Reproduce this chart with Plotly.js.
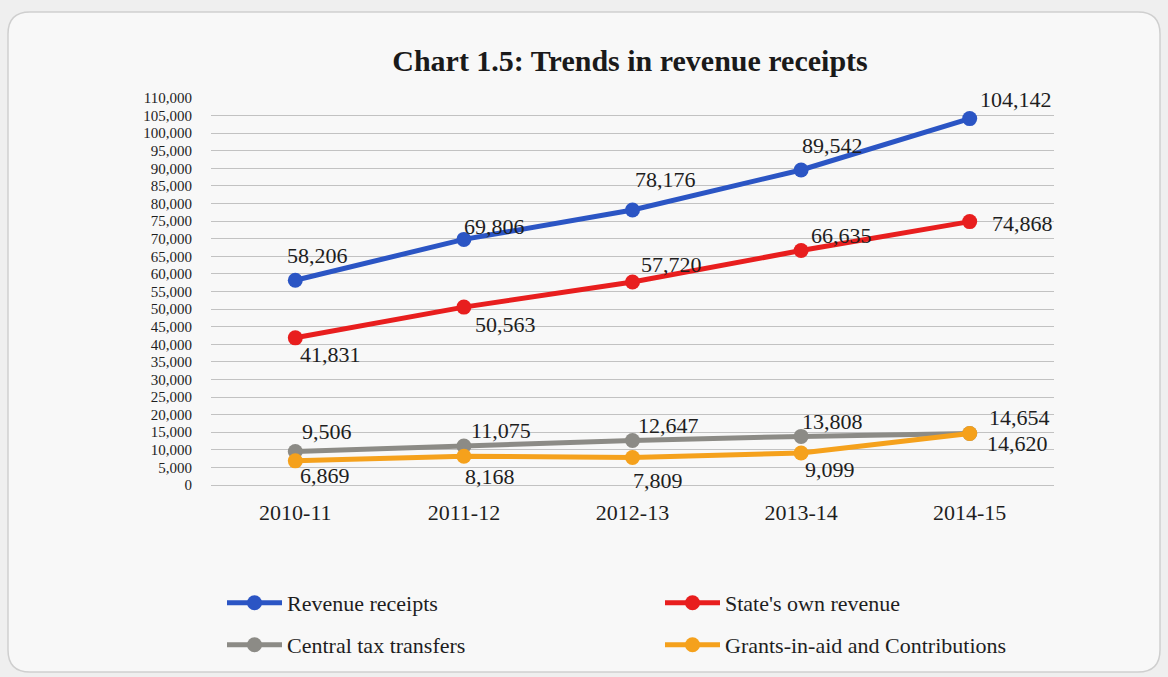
<!DOCTYPE html>
<html>
<head>
<meta charset="utf-8">
<script src="https://cdn.plot.ly/plotly-3.0.1.min.js"></script>
<style>html,body{margin:0;padding:0;background:#efefef;}#chart{width:1168px;height:677px;}</style>
</head>
<body>
<div id="chart"></div>
<script>
// ---- data ----
const years = ["2010-11", "2011-12", "2012-13", "2013-14", "2014-15"];
const revenueReceipts = [58206, 69806, 78176, 89542, 104142];
const stateOwnRevenue = [41831, 50563, 57720, 66635, 74868];
const centralTaxTransfers = [9506, 11075, 12647, 13808, 14654];
const grantsInAid = [6869, 8168, 7809, 9099, 14620];
const yTicks = [0,5000,10000,15000,20000,25000,30000,35000,40000,45000,50000,55000,60000,65000,70000,75000,80000,85000,90000,95000,100000,105000,110000];

// ---- label offsets (px, style only) ----
const offBlue   = [[22,-25],[31,-13],[33,-30],[31,-24],[46,-19]];
const offRed    = [[35,17],[42,17],[39,-17],[40,-15],[53,2]];
const offGray   = [[32,-20],[37,-16],[36,-15],[31,-15],[50,-16]];
const offOrange = [[30,15],[26,20],[25,23],[29,17],[48,10]];

const serif = "Liberation Serif, Times New Roman, serif";
const cBlue = "#2b55c4", cRed = "#e81e1e", cGray = "#8c8b86", cOrange = "#f5a11c";

function tr(name, y, color, legend) {
  return {
    x: years, y: y, name: name, type: "scatter", mode: "lines+markers",
    line: {color: color, width: 5},
    marker: {color: color, size: 15},
    legend: legend
  };
}
const traces = [
  tr("Central tax transfers", centralTaxTransfers, cGray, "legend3"),
  tr("Grants-in-aid and Contributions", grantsInAid, cOrange, "legend4"),
  tr("Revenue receipts", revenueReceipts, cBlue, "legend"),
  tr("State's own revenue", stateOwnRevenue, cRed, "legend2")
];

const fmt = v => v.toLocaleString("en-US");
const annotations = [];
[[revenueReceipts, offBlue],[stateOwnRevenue, offRed],[centralTaxTransfers, offGray],[grantsInAid, offOrange]].forEach(([vals, offs]) => {
  vals.forEach((v, i) => {
    annotations.push({x: years[i], y: v, xref: "x", yref: "y", text: fmt(v), showarrow: false,
      xshift: offs[i][0], yshift: -offs[i][1], font: {family: serif, size: 22, color: "#1e1e1e"}});
  });
});

function leg(px, py) {
  return {orientation: "h", xref: "container", yref: "container", x: px/1168, y: 1 - py/677, xanchor: "left", yanchor: "middle",
    bgcolor: "rgba(0,0,0,0)", font: {family: serif, size: 22, color: "#1e1e1e"}, itemwidth: 55};
}

const ML = 211, MR = 114, MT = 98, MB = 192;
const layout = {
  width: 1168, height: 677,
  paper_bgcolor: "#efefef", plot_bgcolor: "rgba(0,0,0,0)",
  margin: {l: ML, r: MR, t: MT, b: MB},
  title: {text: "<b>Chart 1.5: Trends in revenue receipts</b>", font: {family: serif, size: 30, color: "#1a1a1a"},
    x: 630/1168, xanchor: "center", y: 1 - 60/677, yanchor: "middle", xref: "container", yref: "container"},
  xaxis: {type: "category", range: [-0.5, 4.5], showgrid: false, zeroline: false, showline: false, ticks: "",
    tickfont: {family: serif, size: 22, color: "#1e1e1e"}, ticklabelstandoff: 12},
  yaxis: {range: [0, 110000], tickvals: yTicks, ticktext: yTicks.map(fmt), showgrid: true, gridcolor: "#c2c2c2", gridwidth: 1,
    zeroline: true, zerolinecolor: "#c2c2c2", zerolinewidth: 1, showline: false, ticks: "",
    tickfont: {family: serif, size: 15, color: "#1e1e1e"}, ticklabelstandoff: 18},
  showlegend: true,
  legend: leg(222, 603),
  legend2: leg(660, 603),
  legend3: leg(222, 645),
  legend4: leg(660, 645),
  annotations: annotations,
  shapes: [{type: "path", xref: "paper", yref: "paper", layer: "below",
    path: "", line: {color: "#cfcfcf", width: 1.5}, fillcolor: "#f8f8f8"}]
};
// rounded frame in pixel terms converted to paper coords
(function(){
  const pw = 1168 - ML - MR, ph = 677 - MT - MB;
  const X = px => (px - ML) / pw, Y = py => (677 - MB - py) / ph;
  const x0 = 8, x1 = 1160, y0 = 12, y1 = 672, r = 22;
  layout.shapes[0].path = `M ${X(x0+r)} ${Y(y0)} L ${X(x1-r)} ${Y(y0)} Q ${X(x1)} ${Y(y0)} ${X(x1)} ${Y(y0+r)} L ${X(x1)} ${Y(y1-r)} Q ${X(x1)} ${Y(y1)} ${X(x1-r)} ${Y(y1)} L ${X(x0+r)} ${Y(y1)} Q ${X(x0)} ${Y(y1)} ${X(x0)} ${Y(y1-r)} L ${X(x0)} ${Y(y0+r)} Q ${X(x0)} ${Y(y0)} ${X(x0+r)} ${Y(y0)} Z`;
})();

Plotly.newPlot("chart", traces, layout, {displayModeBar: false, responsive: false});
</script>
</body>
</html>
